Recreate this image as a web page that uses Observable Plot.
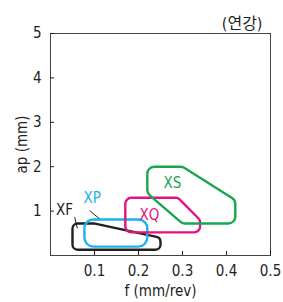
<!DOCTYPE html>
<html><head><meta charset="utf-8">
<script src="https://cdn.jsdelivr.net/npm/d3@7"></script>
<script src="https://cdn.jsdelivr.net/npm/@observablehq/plot@0.6"></script>
<style>
body{margin:0;background:#fff;}
svg{font-family:"Liberation Sans Narrow","DejaVu Sans Condensed","Noto Sans CJK KR",sans-serif;}
</style></head>
<body><div id="chart"></div>
<script>
// Series names and colours
const names = ["XF", "XP", "XQ", "XS"];
const colors = ["#231f20", "#1cb2ec", "#e4137f", "#1aa650"];
// Outline vertices (f mm/rev, ap mm)
const xfF  = [0.05, 0.10, 0.25, 0.25, 0.05];
const xfAp = [0.72, 0.72, 0.40, 0.13, 0.13];
const xpF  = [0.077, 0.22, 0.22, 0.077];
const xpAp = [0.81, 0.81, 0.20, 0.20];
const xqF  = [0.17, 0.29, 0.34, 0.34, 0.17];
const xqAp = [1.30, 1.30, 0.80, 0.52, 0.52];
const xsF  = [0.22, 0.30, 0.42, 0.42, 0.30, 0.22];
const xsAp = [2.00, 2.00, 1.25, 0.72, 0.72, 1.40];
const radii = [5, 9, 6, 7];
// Label positions
const labelF  = [0.032, 0.095, 0.225, 0.277];
const labelAp = [1.01, 1.28, 0.90, 1.62];
// Leader lines (XF, XP)
const leadF1 = [0.055, 0.089], leadAp1 = [0.86, 1.01];
const leadF2 = [0.061, 0.111], leadAp2 = [0.61, 0.83];
const leadColor = ["#231f20", "#231f20"];
// Ticks
const xTicks = [0.1, 0.2, 0.3, 0.4, 0.5];
const yTicks = [1, 2, 3, 4, 5];
const note = "(연강)";

const outlines = [[xfF, xfAp], [xpF, xpAp], [xqF, xqAp], [xsF, xsAp]];

function roundedClosed(r) {
  return function(context) {
    let pts = [];
    return {
      areaStart() {}, areaEnd() {},
      lineStart() { pts = []; },
      point(x, y) { pts.push([+x, +y]); },
      lineEnd() {
        const n = pts.length; if (!n) return;
        const a = pts[n - 1], b = pts[0];
        context.moveTo((a[0] + b[0]) / 2, (a[1] + b[1]) / 2);
        for (let i = 0; i < n; i++) {
          const p = pts[i], q = pts[(i + 1) % n];
          context.arcTo(p[0], p[1], q[0], q[1], r);
        }
        context.closePath();
      }
    };
  };
}

const shapeMarks = outlines.map(([fs, aps], i) =>
  Plot.line(fs.map((f, j) => ({f, ap: aps[j]})), {
    x: "f", y: "ap", stroke: colors[i], strokeWidth: 2.4,
    curve: roundedClosed(radii[i]), strokeLinejoin: "round"
  })
);

const labels = names.map((n, i) => ({n, f: labelF[i], ap: labelAp[i], c: colors[i]}));
const leaders = leadF1.map((f, i) => ({f1: f, a1: leadAp1[i], f2: leadF2[i], a2: leadAp2[i], c: leadColor[i]}));

const chart = Plot.plot({
  width: 283, height: 302,
  marginLeft: 50, marginRight: 13, marginTop: 33, marginBottom: 47,
  x: {domain: [0, 0.5]},
  y: {domain: [0, 5]},
  style: {fontSize: "15px", color: "#231f20"},
  marks: [
    Plot.frame({stroke: "#444", strokeWidth: 1}),
    Plot.axisX(xTicks, {tickSize: -4, tickPadding: 14, fontSize: 15, label: "f (mm/rev)", labelAnchor: "center", labelOffset: 40, labelArrow: "none", tickFormat: d => d.toFixed(1)}),
    Plot.axisY(yTicks, {tickSize: -4, tickPadding: 13, fontSize: 15, label: "ap (mm)", labelAnchor: "center", labelOffset: 34, labelArrow: "none"}),
    ...shapeMarks,
    Plot.link(leaders, {x1: "f1", y1: "a1", x2: "f2", y2: "a2", stroke: "c", strokeWidth: 1}),
    Plot.text(labels, {x: "f", y: "ap", text: "n", fill: "c", fontSize: 15}),
    Plot.text([note], {frameAnchor: "top-right", dx: -8, dy: -16, textAnchor: "end", fontSize: 16, fill: "#231f20"})
  ]
});
document.getElementById("chart").append(chart);
</script></body></html>
